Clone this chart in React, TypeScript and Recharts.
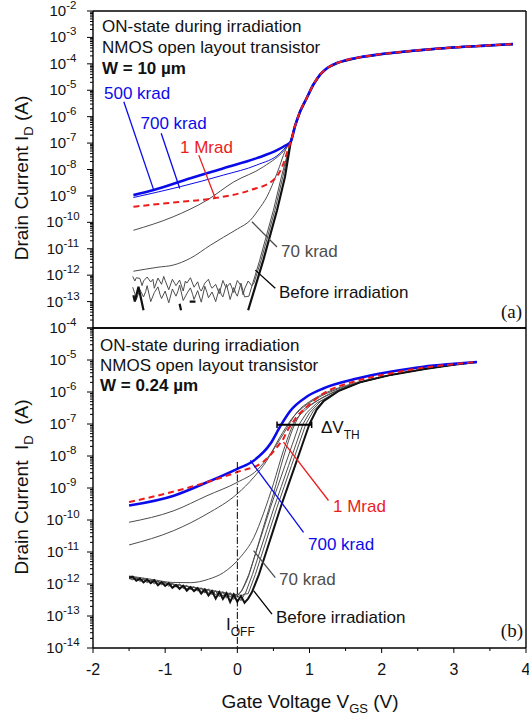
import React from 'react';
import { LineChart, Line, XAxis, YAxis, ReferenceLine } from 'recharts';

type Pt = [number, number | null];

const FONT = '"Liberation Sans", Arial, sans-serif';
const SERIF = '"Liberation Serif", "Times New Roman", serif';
const BLUE = '#0b0bea';
const RED = '#ec1c1c';
const GREY = '#4d4d4d';
const BLACK = '#111';

// gate voltage axis (V)
const xTicks = [-2, -1.5, -1, -0.5, 0, 0.5, 1, 1.5, 2, 2.5, 3, 3.5, 4];
// decades on the drain current axes
const topDecades = [-14, -13, -12, -11, -10, -9, -8, -7, -6, -5, -4, -3, -2];
const bottomDecades = [-14, -13, -12, -11, -10, -9, -8, -7, -6, -5, -4];
const minorSteps = [2, 3, 4, 5, 6, 7, 8, 9];

// ---- (a) W = 10 um : [V_GS, I_D (A)] ----
const topTail: Pt[] = [
  [0.74, 1.12e-7], [0.8, 4.47e-7], [0.87, 1.58e-6], [0.96, 5.0e-6], [1.05, 1.58e-5], [1.15, 3.98e-5],
  [1.25, 7.08e-5], [1.4, 1.12e-4], [1.7, 1.78e-4], [2.0, 2.34e-4], [2.5, 3.24e-4], [3.0, 4.17e-4],
  [3.5, 5.0e-4], [3.82, 5.6e-4],
];
const top500: Pt[] = [[-1.44, 1.07e-9], [-1.16, 1.66e-9], [-0.65, 4.68e-9], [-0.19, 1.12e-8], [0.27, 2.69e-8], [0.55, 5.37e-8], [0.66, 7.94e-8]];
const top700: Pt[] = [[-1.44, 8.7e-10], [-0.79, 2.24e-9], [-0.19, 6.17e-9], [0.27, 1.48e-8], [0.59, 4.07e-8], [0.69, 8.0e-8]];
const top1M: Pt[] = [[-1.44, 3.89e-10], [-0.9, 5.6e-10], [-0.33, 8.1e-10], [0.18, 1.66e-9], [0.5, 3.98e-9], [0.64, 1.7e-8], [0.7, 5.6e-8]];
const topGrey: Pt[] = [[-1.44, 5.0e-11], [-0.89, 1.62e-10], [-0.42, 6.9e-10], [-0.05, 3.39e-9], [0.36, 1.26e-8], [0.69, 7.2e-8]];
const top70: Pt[] = [
  [-1.44, 1.41e-12], [-1.1, 2.0e-12], [-0.89, 2.4e-12], [-0.65, 4.37e-12], [-0.37, 1.38e-11], [-0.19, 2.75e-11],
  [0.0, 5.6e-11], [0.18, 1.2e-10], [0.3, 3.2e-10], [0.41, 9.3e-10], [0.55, 7.24e-9], [0.69, 7.24e-8],
];
const topNoise1: Pt[] = [
  [-1.45, 9e-13], [-1.42, 6e-13], [-1.4, 8e-13], [-1.35, 7.5e-13], [-1.32, 4e-13], [-1.3, 6e-13], [-1.25, 8.5e-13],
  [-1.2, 5.5e-13], [-1.17, 7e-13], [-1.15, 3.2e-13], [-1.1, 7.8e-13], [-1.05, 4.5e-13], [-1.02, 9e-13], [-1.0, 6.3e-13],
  [-0.95, 2.8e-13], [-0.9, 7e-13], [-0.87, 5e-13], [-0.85, 4e-13], [-0.8, 6.5e-13], [-0.75, 2.5e-13], [-0.72, 6e-13],
  [-0.7, 5e-13], [-0.65, 8e-13], [-0.6, 3.5e-13], [-0.55, 5.6e-13], [-0.52, 3e-13], [-0.5, 2.5e-13], [-0.45, 5e-13],
  [-0.4, 7e-13], [-0.37, 4e-13], [-0.35, 3.2e-13], [-0.3, 4.5e-13], [-0.25, 2e-13], [-0.2, 6.3e-13], [-0.17, 4e-13],
  [-0.15, 3.5e-13], [-0.1, 5e-13], [-0.05, 2.2e-13], [0.0, 6.3e-13], [0.05, 4e-13], [0.08, 1.8e-13], [0.1, 3e-13],
  [0.15, 6e-13], [0.2, 4e-13], [0.23, 5e-13], [0.33, 3.72e-12], [0.52, 2.88e-10], [0.63, 5.25e-9],
];
const topNoise2: Pt[] = [
  [-1.45, 3.5e-13], [-1.42, 2e-13], [-1.4, 1.2e-13], [-1.35, 2.8e-13], [-1.3, 1.5e-13], [-1.27, 2.4e-13], [-1.25, 4e-13],
  [-1.2, 1.0e-13], [-1.15, 2.2e-13], [-1.1, 3.6e-13], [-1.07, 1.8e-13], [-1.05, 1.3e-13], [-1.0, 2.5e-13], [-0.95, 0.9e-13],
  [-0.9, 3e-13], [-0.85, 1.6e-13], [-0.82, 2.6e-13], [-0.8, 4.2e-13], [-0.75, 1.1e-13], [-0.7, 2e-13], [-0.65, 3.3e-13],
  [-0.62, 1.9e-13], [-0.6, 1.2e-13], [-0.55, 2.6e-13], [-0.5, 0.95e-13], [-0.45, 3.8e-13], [-0.42, 2.2e-13], [-0.4, 1.4e-13],
  [-0.35, 2.3e-13], [-0.3, 1.0e-13], [-0.25, 3.1e-13], [-0.22, 1.8e-13], [-0.2, 1.5e-13], [-0.15, 4.5e-13], [-0.1, 1.2e-13],
  [-0.05, 3.4e-13], [-0.02, 2e-13], [0.0, 1.6e-13], [0.05, 5e-13], [0.1, 1.5e-13], [0.16, 1.6e-13],
  [0.31, 3.72e-12], [0.5, 2.88e-10], [0.61, 5.25e-9],
];
const topPre: Pt[] = [
  [-1.44, 1.74e-13], [-1.42, 1.0e-13], [-1.37, 3.63e-13], [-1.3, 4.68e-14], [-1.27, null],
  [-0.8, 8.3e-14], [-0.78, 4.68e-14], [-0.75, null], [-0.66, 1.0e-13], [-0.58, 1.0e-13], [-0.55, null],
  [0.15, 4.68e-14], [0.36, 3.72e-12], [0.55, 2.88e-10], [0.66, 5.25e-9],
];

// ---- (b) W = 0.24 um ----
const botTail: Pt[] = [[1.4, 1.07e-6], [1.7, 2.0e-6], [2.1, 3.31e-6], [2.6, 5.25e-6], [3.0, 7.08e-6], [3.32, 8.7e-6]];
const bot700: Pt[] = [
  [-1.5, 2.82e-10], [-0.88, 5.75e-10], [-0.42, 1.51e-9], [0.0, 3.98e-9], [0.23, 7.24e-9], [0.46, 2.45e-8], [0.6, 8.9e-8],
  [0.73, 2.51e-7], [0.96, 7.08e-7], [1.19, 1.29e-6], [1.66, 2.63e-6], [2.12, 4.27e-6], [2.58, 6.17e-6], [3.0, 7.59e-6], [3.32, 8.7e-6],
];
const bot1M: Pt[] = [
  [-1.5, 3.63e-10], [-0.65, 1.07e-9], [0.0, 3.16e-9], [0.36, 6.6e-9], [0.55, 1.91e-8], [0.64, 3.55e-8], [0.69, 6.0e-8],
  [0.76, 1.05e-7], [0.83, 1.78e-7], [0.92, 2.82e-7], [1.19, 8.9e-7], [1.66, 2.24e-6], [2.12, 3.8e-6], [2.58, 5.75e-6],
  [3.0, 7.4e-6], [3.32, 8.7e-6],
];
const botGreyA: Pt[] = [
  [-1.5, 8.5e-11], [-0.88, 1.95e-10], [-0.42, 5.75e-10], [0.0, 1.51e-9], [0.27, 3.55e-9], [0.46, 1.17e-8], [0.64, 5.0e-8],
  [0.83, 2.4e-7], [1.0, 5.0e-7], [1.2, 8.9e-7], [1.5, 1.58e-6],
];
const botGreyB: Pt[] = [
  [-1.5, 1.66e-11], [-0.88, 4.68e-11], [-0.42, 1.55e-10], [0.0, 6.6e-10], [0.23, 2.19e-9], [0.41, 7.24e-9], [0.59, 3.89e-8],
  [0.75, 1.41e-7], [0.9, 3.16e-7], [1.1, 6.3e-7], [1.4, 1.26e-6],
];
const botGreyC: Pt[] = [
  [-1.5, 1.78e-12], [-1.2, 1.41e-12], [-0.9, 1.12e-12], [-0.65, 1.1e-12], [-0.4, 1.41e-12], [-0.19, 2.29e-12], [0.04, 6.8e-12],
  [0.23, 2.88e-11], [0.36, 1.55e-10], [0.5, 1.35e-9], [0.64, 1.51e-8], [0.78, 1.02e-7], [0.95, 2.82e-7], [1.2, 7.1e-7], [1.5, 1.41e-6],
];
const bot70: Pt[] = [
  [-1.5, 1.6e-12], [-1.2, 1.25e-12], [-0.9, 1.0e-12], [-0.6, 7.9e-13], [-0.3, 6.0e-13], [-0.1, 5.0e-13], [0.0, 4.5e-13],
  [0.06, 6.3e-13], [0.13, 1.26e-12], [0.25, 8.7e-12], [0.36, 5.9e-11], [0.5, 6.6e-10], [0.64, 9.3e-9], [0.78, 8.1e-8],
  [0.9, 2.51e-7], [1.05, 4.47e-7], [1.3, 8.9e-7],
];
const botPre: Pt[] = [
  [-1.5, 1.6e-12], [-1.45, 1.7e-12], [-1.4, 1.26e-12], [-1.35, 1.48e-12], [-1.3, 1.12e-12], [-1.25, 1.38e-12], [-1.2, 1.07e-12],
  [-1.15, 1.32e-12], [-1.1, 9.1e-13], [-1.05, 1.15e-12], [-1.0, 8.7e-13], [-0.95, 1.07e-12], [-0.9, 7.6e-13], [-0.85, 9.3e-13],
  [-0.8, 7.1e-13], [-0.75, 8.9e-13], [-0.7, 6.2e-13], [-0.65, 7.9e-13], [-0.6, 6.0e-13], [-0.55, 7.4e-13], [-0.5, 5.0e-13],
  [-0.45, 6.8e-13], [-0.4, 4.4e-13], [-0.35, 6.0e-13], [-0.3, 3.5e-13], [-0.25, 5.6e-13], [-0.2, 3.4e-13], [-0.15, 5.2e-13],
  [-0.1, 2.75e-13], [-0.05, 4.7e-13], [0.0, 2.8e-13], [0.05, 4.2e-13], [0.1, 2.6e-13], [0.15, 3.5e-13],
  [0.2, 5.4e-13], [0.3, 2.0e-12], [0.4, 1.0e-11], [0.5, 5.0e-11], [0.6, 2.51e-10], [0.7, 1.12e-9], [0.8, 5.0e-9],
  [0.9, 2.24e-8], [1.0, 1.0e-7], [1.1, 2.82e-7], [1.2, 5.25e-7],
];
const botS1: Pt[] = [
  [-1.5, 1.5e-12], [-1.45, 1.35e-12], [-1.4, 1.55e-12], [-1.35, 1.2e-12], [-1.3, 1.4e-12], [-1.25, 1.1e-12], [-1.2, 1.3e-12],
  [-1.15, 1.0e-12], [-1.1, 1.2e-12], [-1.05, 9.5e-13], [-1.0, 1.1e-12], [-0.95, 8.5e-13], [-0.9, 1.0e-12], [-0.85, 8.0e-13],
  [-0.8, 9.5e-13], [-0.75, 7.2e-13], [-0.7, 8.6e-13], [-0.65, 6.8e-13], [-0.6, 8.0e-13], [-0.55, 6.0e-13], [-0.5, 7.2e-13],
  [-0.45, 5.2e-13], [-0.4, 6.6e-13], [-0.35, 4.6e-13], [-0.3, 6.0e-13], [-0.25, 4.0e-13], [-0.2, 5.5e-13], [-0.15, 3.6e-13],
  [-0.1, 5.0e-13], [-0.05, 3.3e-13], [0.0, 4.6e-13], [0.05, 3.0e-13], [0.1, 4.8e-13],
  [0.15, 5.0e-13], [0.25, 2.0e-12], [0.35, 1.0e-11], [0.45, 5.0e-11], [0.55, 2.51e-10], [0.65, 1.12e-9], [0.75, 5.0e-9],
  [0.85, 2.24e-8], [0.95, 1.0e-7], [1.05, 2.5e-7], [1.2, 5.6e-7],
];
const botS2: Pt[] = [
  [-1.5, 1.7e-12], [-1.45, 1.45e-12], [-1.4, 1.6e-12], [-1.35, 1.3e-12], [-1.3, 1.5e-12], [-1.25, 1.2e-12], [-1.2, 1.35e-12],
  [-1.15, 1.1e-12], [-1.1, 1.25e-12], [-1.05, 1.0e-12], [-1.0, 1.15e-12], [-0.95, 9.2e-13], [-0.9, 1.05e-12], [-0.85, 8.4e-13],
  [-0.8, 1.0e-12], [-0.75, 7.8e-13], [-0.7, 9.0e-13], [-0.65, 7.0e-13], [-0.6, 8.3e-13], [-0.55, 6.3e-13], [-0.5, 7.6e-13],
  [-0.45, 5.6e-13], [-0.4, 7.0e-13], [-0.35, 5.0e-13], [-0.3, 6.2e-13], [-0.25, 4.4e-13], [-0.2, 5.8e-13], [-0.15, 4.0e-13],
  [-0.1, 5.4e-13], [-0.05, 3.8e-13], [0.0, 5.0e-13], [0.05, 4.2e-13],
  [0.11, 5.0e-13], [0.21, 2.0e-12], [0.31, 1.0e-11], [0.41, 5.0e-11], [0.51, 2.51e-10], [0.61, 1.12e-9], [0.71, 5.0e-9],
  [0.81, 2.24e-8], [0.91, 1.0e-7], [1.0, 2.24e-7], [1.15, 5.0e-7],
];
const botS3: Pt[] = [
  [-1.5, 1.45e-12], [-1.45, 1.6e-12], [-1.4, 1.3e-12], [-1.35, 1.45e-12], [-1.3, 1.15e-12], [-1.25, 1.3e-12], [-1.2, 1.05e-12],
  [-1.15, 1.2e-12], [-1.1, 9.8e-13], [-1.05, 1.1e-12], [-1.0, 9.0e-13], [-0.95, 1.0e-12], [-0.9, 8.2e-13], [-0.85, 9.4e-13],
  [-0.8, 7.6e-13], [-0.75, 8.8e-13], [-0.7, 7.0e-13], [-0.65, 8.2e-13], [-0.6, 6.4e-13], [-0.55, 7.6e-13], [-0.5, 5.8e-13],
  [-0.45, 7.0e-13], [-0.4, 5.2e-13], [-0.35, 6.4e-13], [-0.3, 4.6e-13], [-0.25, 5.8e-13], [-0.2, 4.2e-13], [-0.15, 5.4e-13],
  [-0.1, 3.9e-13], [-0.05, 5.0e-13], [0.0, 4.5e-13],
  [0.06, 6.0e-13], [0.16, 2.0e-12], [0.26, 1.0e-11], [0.36, 5.0e-11], [0.46, 2.51e-10], [0.56, 1.12e-9], [0.66, 5.0e-9],
  [0.76, 2.24e-8], [0.86, 1.0e-7], [0.96, 2.24e-7], [1.1, 4.47e-7],
];

// annotation leader lines, in data units [V, A]
const topPointers = [
  { a: [-1.573, 3.66e-6], b: [-1.158, 1.66e-9], c: BLUE },
  { a: [-1.055, 2.34e-7], b: [-0.798, 1.92e-9], c: BLUE },
  { a: [-0.535, 3.5e-8], b: [-0.304, 8.0e-10], c: RED },
  { a: [0.203, 1.05e-10], b: [0.549, 1.17e-11], c: GREY },
  { a: [0.249, 1.55e-12], b: [0.526, 3.2e-13], c: '#000' },
];
const botPointers = [
  { a: [0.18, 7.3e-9], b: [0.917, 4.1e-11], c: BLUE },
  { a: [0.64, 2.73e-8], b: [1.263, 4.07e-10], c: RED },
  { a: [0.225, 1.1e-11], b: [0.526, 1.58e-12], c: GREY },
  { a: [0.225, 6.2e-13], b: [0.48, 1.15e-13], c: '#000' },
];

const logTicks = (decades: number[]) => {
  const out: number[] = [];
  decades.forEach((d, k) => {
    out.push(Math.pow(10, d));
    if (k < decades.length - 1) minorSteps.forEach((m) => out.push(m * Math.pow(10, d)));
  });
  return out;
};

const rows = (pts: Pt[]) => pts.map(([v, i]) => ({ v, i }));

const LogTick = (props: any) => {
  const { x, y, payload, skip } = props;
  const e = Math.log10(payload.value);
  const exp = Math.round(e);
  const major = Math.abs(e - exp) < 1e-6;
  return (
    <g>
      <line x1={x} x2={x - (major ? 6 : 3)} y1={y} y2={y} stroke="#000" strokeWidth={1} />
      {major && exp !== skip && (
        <text x={x - 30} y={y + 5} textAnchor="middle" fontSize={15} fontFamily={FONT} fill="#111">
          10<tspan dy={-7} fontSize={11.5}>{exp}</tspan>
        </text>
      )}
    </g>
  );
};

const VTick = (props: any) => {
  const { x, y, payload } = props;
  const major = Number.isInteger(payload.value);
  return (
    <g>
      <line x1={x} x2={x} y1={y} y2={y + (major ? 5 : 3)} stroke="#000" strokeWidth={1} />
      {major && (
        <text x={x} y={y + 27} textAnchor="middle" fontSize={16} fontFamily={FONT} fill="#111">
          {payload.value}
        </text>
      )}
    </g>
  );
};

const curve = (key: string, pts: Pt[], stroke: string, width: number, dash?: string, type: 'monotone' | 'linear' = 'monotone') => (
  <Line
    key={key}
    data={rows(pts)}
    dataKey="i"
    type={type}
    stroke={stroke}
    strokeWidth={width}
    strokeDasharray={dash}
    dot={false}
    activeDot={false}
    connectNulls={false}
    isAnimationActive={false}
  />
);

const pointer = (p: { a: number[]; b: number[]; c: string }, k: number) => (
  <ReferenceLine
    key={'p' + k}
    segment={[{ x: p.a[0], y: p.a[1] }, { x: p.b[0], y: p.b[1] }]}
    stroke={p.c}
    strokeWidth={1.3}
    ifOverflow="visible"
  />
);

const frame = { stroke: '#000', strokeWidth: 1.4, ifOverflow: 'visible' as const };

const TopPanel = () => (
  <LineChart width={529} height={330} margin={{ top: 11, right: 3, bottom: 2, left: 0 }}>
    <XAxis type="number" dataKey="v" domain={[-2, 4]} ticks={xTicks} hide allowDataOverflow />
    <YAxis
      type="number"
      scale="log"
      domain={[1e-14, 1e-2]}
      ticks={logTicks(topDecades)}
      allowDataOverflow
      interval={0}
      width={93}
      tickSize={0}
      tickMargin={0}
      tickLine={false}
      axisLine={{ stroke: '#000', strokeWidth: 1.4 }}
      tick={(p: any) => <LogTick {...p} skip={-14} />}
    />
    <ReferenceLine y={1e-2} {...frame} />
    <ReferenceLine y={1e-14} {...frame} />
    <ReferenceLine x={4} {...frame} />
    {curve('n2', [...topNoise2, ...topTail], GREY, 1, undefined, 'linear')}
    {curve('n1', [...topNoise1, ...topTail], GREY, 1, undefined, 'linear')}
    {curve('g70', [...top70, ...topTail], GREY, 1)}
    {curve('g', [...topGrey, ...topTail], GREY, 1)}
    {curve('pre', [...topPre, ...topTail], BLACK, 2.2, undefined, 'linear')}
    {curve('b700', [...top700, ...topTail], BLUE, 1)}
    {curve('b500', [...top500, ...topTail], BLUE, 2.6)}
    {curve('r1M', [...top1M, ...topTail], RED, 2, '6 4')}
    {topPointers.map(pointer)}
  </LineChart>
);

const BottomPanel = () => (
  <LineChart width={529} height={406} margin={{ top: 18, right: 3, bottom: 0, left: 0 }}>
    <XAxis
      type="number"
      dataKey="v"
      domain={[-2, 4]}
      ticks={xTicks}
      allowDataOverflow
      interval={0}
      height={68}
      tickSize={0}
      tickMargin={0}
      tickLine={false}
      axisLine={{ stroke: '#000', strokeWidth: 1.4 }}
      tick={(p: any) => <VTick {...p} />}
    />
    <YAxis
      type="number"
      scale="log"
      domain={[1e-14, 1e-4]}
      ticks={logTicks(bottomDecades)}
      allowDataOverflow
      interval={0}
      width={93}
      tickSize={0}
      tickMargin={0}
      tickLine={false}
      axisLine={{ stroke: '#000', strokeWidth: 1.4 }}
      tick={(p: any) => <LogTick {...p} />}
    />
    <ReferenceLine y={1e-4} {...frame} />
    <ReferenceLine x={4} {...frame} />
    {curve('s3', [...botS3, ...botTail], GREY, 1, undefined, 'linear')}
    {curve('s2', [...botS2, ...botTail], GREY, 1, undefined, 'linear')}
    {curve('s1', [...botS1, ...botTail], GREY, 1, undefined, 'linear')}
    {curve('g70', [...bot70, ...botTail.slice(1)], GREY, 1)}
    {curve('gc', [...botGreyC, ...botTail.slice(2)], GREY, 1)}
    {curve('gb', [...botGreyB, ...botTail.slice(1)], GREY, 1)}
    {curve('ga', [...botGreyA, ...botTail.slice(2)], GREY, 1)}
    {curve('pre', [...botPre, ...botTail], BLACK, 2, undefined, 'linear')}
    {curve('b700', bot700, BLUE, 2.6)}
    {curve('r1M', bot1M, RED, 2, '6 4')}
    {botPointers.map(pointer)}
    <ReferenceLine segment={[{ x: 0, y: 6.5e-9 }, { x: 0, y: 1e-14 }]} stroke="#000" strokeWidth={1} strokeDasharray="7 2 1.5 2" ifOverflow="visible" />
    <ReferenceLine segment={[{ x: 0.55, y: 9.5e-8 }, { x: 1.03, y: 9.5e-8 }]} stroke="#000" strokeWidth={2} ifOverflow="visible" />
    <ReferenceLine segment={[{ x: 0.55, y: 7.5e-8 }, { x: 0.55, y: 1.2e-7 }]} stroke="#000" strokeWidth={1.5} ifOverflow="visible" />
    <ReferenceLine segment={[{ x: 1.03, y: 7.5e-8 }, { x: 1.03, y: 1.2e-7 }]} stroke="#000" strokeWidth={1.5} ifOverflow="visible" />
  </LineChart>
);

const T = (p: { x: number; y: number; c?: string; b?: boolean; children: React.ReactNode }) => (
  <text x={p.x} y={p.y} fontSize={17} fontFamily={FONT} fill={p.c || '#111'} fontWeight={p.b ? 'bold' : 'normal'}>
    {p.children}
  </text>
);

const Labels = () => (
  <svg width={529} height={716} style={{ position: 'absolute', left: 0, top: 0, pointerEvents: 'none' }}>
    <T x={102} y={31.5}>ON-state during irradiation</T>
    <T x={102} y={53}>NMOS open layout transistor</T>
    <T x={102} y={74} b>W = 10 µm</T>
    <T x={104} y={99} c={BLUE}>500 krad</T>
    <T x={140.5} y={129} c={BLUE}>700 krad</T>
    <T x={180} y={152.5} c={RED}>1 Mrad</T>
    <T x={281} y={257} c={GREY}>70 krad</T>
    <T x={279} y={298}>Before irradiation</T>
    <text x={522} y={318} textAnchor="end" fontSize={19} fontFamily={SERIF} fill="#111">(a)</text>

    <T x={100} y={350.5}>ON-state during irradiation</T>
    <T x={100} y={370.5}>NMOS open layout transistor</T>
    <T x={100} y={390.5} b>W = 0.24 µm</T>
    <text x={321} y={433} fontSize={17} fontFamily={FONT} fill="#111">
      ΔV<tspan dy={6} fontSize={12}>TH</tspan>
    </text>
    <T x={333} y={511.5} c={RED}>1 Mrad</T>
    <T x={308} y={550} c={BLUE}>700 krad</T>
    <T x={279} y={585} c={GREY}>70 krad</T>
    <T x={276} y={622.5}>Before irradiation</T>
    <text x={226} y={629.5} fontSize={17} fontFamily={FONT} fill="#111">
      I<tspan dy={6} fontSize={12}>OFF</tspan>
    </text>
    <text x={523} y={637} textAnchor="end" fontSize={19} fontFamily={SERIF} fill="#111">(b)</text>

    <text transform="translate(28,178) rotate(-90)" textAnchor="middle" fontSize={19} fontFamily={FONT} fill="#111">
      Drain Current I<tspan dy={5} fontSize={13}>D</tspan><tspan dy={-5}> (A)</tspan>
    </text>
    <text transform="translate(28,487) rotate(-90)" textAnchor="middle" fontSize={19} fontFamily={FONT} fill="#111">
      {'Drain Current\u00a0 I'}<tspan dy={5} fontSize={13}>D</tspan><tspan dy={-5}>{'\u00a0 (A)'}</tspan>
    </text>
    <text x={310} y={708} textAnchor="middle" fontSize={19} fontFamily={FONT} fill="#111">
      Gate Voltage V<tspan dy={5} fontSize={13}>GS</tspan><tspan dy={-5}> (V)</tspan>
    </text>
  </svg>
);

export default function App() {
  return (
    <div style={{ position: 'absolute', left: 0, top: 0, width: 529, height: 716, background: '#fff', fontFamily: FONT }}>
      <div style={{ position: 'absolute', left: 0, top: 0 }}>
        <TopPanel />
      </div>
      <div style={{ position: 'absolute', left: 0, top: 310 }}>
        <BottomPanel />
      </div>
      <Labels />
    </div>
  );
}
